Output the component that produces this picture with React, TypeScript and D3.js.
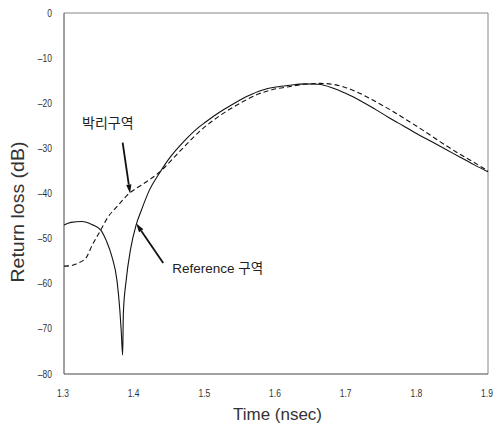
import React from "react";
import * as d3 from "d3";

// Time axis (nsec) and return loss (dB) samples for the two regions
const refTime = [
  1.3, 1.31, 1.325, 1.34, 1.352, 1.36, 1.368, 1.375, 1.379, 1.381, 1.383, 1.384,
  1.388, 1.394, 1.402, 1.41, 1.421, 1.435, 1.45, 1.47, 1.49, 1.5, 1.52, 1.54,
  1.56, 1.58, 1.6, 1.62, 1.64, 1.66, 1.68, 1.7, 1.72, 1.74, 1.76, 1.78, 1.8,
  1.82, 1.84, 1.86, 1.88, 1.9,
];
const refLoss = [
  -47.0, -46.4, -46.2, -46.9, -48.1, -50.5, -54.1, -59.3, -65.8, -70.5, -75.8,
  -66.5, -59.2, -52.5, -47.0, -43.5, -39.2, -35.5, -32.0, -28.4, -25.4, -24.2,
  -22.0, -20.1, -18.4, -17.1, -16.4, -16.0, -15.7, -15.8, -16.6, -17.9, -19.5,
  -21.3, -23.2, -25.0, -26.8, -28.5, -30.2, -31.9, -33.6, -35.2,
];

const sepTime = [
  1.3, 1.31, 1.317, 1.331, 1.34, 1.352, 1.361, 1.375, 1.392, 1.41, 1.435,
  1.463, 1.49, 1.52, 1.548, 1.576, 1.6, 1.62, 1.64, 1.662, 1.68, 1.7, 1.72,
  1.737, 1.76, 1.785, 1.81, 1.832, 1.855, 1.879, 1.9,
];
const sepLoss = [
  -56.1, -56.0, -55.6, -54.3, -51.4, -48.1, -45.5, -42.9, -40.0, -38.1, -35.3,
  -30.8, -26.5, -22.8, -20.1, -17.9, -16.8, -16.3, -15.8, -15.6, -15.8, -16.6,
  -17.9, -19.3, -21.3, -23.7, -26.2, -28.5, -30.8, -33.0, -35.0,
];

const xTicks = [1.3, 1.4, 1.5, 1.6, 1.7, 1.8, 1.9];
const yTicks = [0, -10, -20, -30, -40, -50, -60, -70, -80];

const W = 495;
const H = 427;
const plot = { left: 64, right: 488, top: 13, bottom: 374 };

export default function App() {
  const x = d3.scaleLinear().domain([1.3, 1.9]).range([plot.left, plot.right]);
  const y = d3.scaleLinear().domain([-80, 0]).range([plot.bottom, plot.top]);

  const line = d3
    .line<[number, number]>()
    .x((d) => x(d[0]))
    .y((d) => y(d[1]))
    .curve(d3.curveMonotoneX);

  const refPath = line(refTime.map((t, i) => [t, refLoss[i]]) as [number, number][]) || "";
  const sepPath = line(sepTime.map((t, i) => [t, sepLoss[i]]) as [number, number][]) || "";

  const fmt = (v: number) => (v < 0 ? "\u2013" + Math.abs(v) : String(v));

  // annotation arrows, anchored in data space
  const sepArrow = { from: [1.383, -28.7], to: [1.3935, -40.0] };
  const refArrow = { from: [1.4404, -55.4], to: [1.402, -46.6] };

  const arrow = (a: { from: number[]; to: number[] }) => {
    const x1 = x(a.from[0]);
    const y1 = y(a.from[1]);
    const x2 = x(a.to[0]);
    const y2 = y(a.to[1]);
    const ang = Math.atan2(y2 - y1, x2 - x1);
    const len = 9;
    const half = 2.6;
    const bx = x2 - len * Math.cos(ang);
    const by = y2 - len * Math.sin(ang);
    const px = -Math.sin(ang) * half;
    const py = Math.cos(ang) * half;
    return (
      <g>
        <line x1={x1} y1={y1} x2={bx} y2={by} stroke="#111" strokeWidth={1.8} />
        <polygon
          points={`${x2},${y2} ${bx + px},${by + py} ${bx - px},${by - py}`}
          fill="#111"
        />
      </g>
    );
  };

  const sans = "'Liberation Sans', Arial, sans-serif";

  return (
    <svg
      width={W}
      height={H}
      style={{ position: "absolute", left: 0, top: 0, background: "#fff" }}
    >
      {/* frame */}
      <line x1={plot.left} y1={plot.top} x2={plot.right} y2={plot.top} stroke="#888" strokeWidth={1} />
      <line x1={plot.right} y1={plot.top} x2={plot.right} y2={plot.bottom} stroke="#888" strokeWidth={1} />
      <line x1={plot.left} y1={plot.top} x2={plot.left} y2={plot.bottom} stroke="#444" strokeWidth={1} />
      <line x1={plot.left} y1={plot.bottom} x2={plot.right} y2={plot.bottom} stroke="#444" strokeWidth={1} />

      {/* y tick labels */}
      {yTicks.map((v) => (
        <text
          key={"y" + v}
          transform={`translate(${plot.left - 12}, ${y(v) + 3.5}) scale(0.85, 1)`}
          textAnchor="end"
          fontFamily={sans}
          fontSize={10}
          fill="#333"
        >
          {fmt(v)}
        </text>
      ))}

      {/* x tick labels */}
      {xTicks.map((v) => (
        <text
          key={"x" + v}
          transform={`translate(${x(v) - 1}, ${plot.bottom + 23}) scale(0.85, 1)`}
          textAnchor="middle"
          fontFamily={sans}
          fontSize={10}
          fill="#333"
        >
          {v.toFixed(1)}
        </text>
      ))}

      {/* axis titles */}
      <text
        transform="translate(24, 212) rotate(-90)"
        textAnchor="middle"
        fontFamily={sans}
        fontSize={17.5}
        textLength={141}
        lengthAdjust="spacingAndGlyphs"
        fill="#333"
      >
        Return loss (dB)
      </text>
      <text
        x={277.5}
        y={420}
        textAnchor="middle"
        fontFamily={sans}
        fontSize={16.5}
        textLength={89}
        lengthAdjust="spacingAndGlyphs"
        fill="#333"
      >
        Time (nsec)
      </text>

      {/* curves */}
      <path d={sepPath} fill="none" stroke="#111" strokeWidth={1.1} strokeDasharray="5,3" />
      <path d={refPath} fill="none" stroke="#111" strokeWidth={1.1} />

      {/* annotations */}
      {arrow(sepArrow)}
      {arrow(refArrow)}
      <text
        x={x(1.3255)}
        y={y(-25.5)}
        fontFamily="'Noto Sans CJK KR', sans-serif"
        fontSize={14}
        fill="#222"
      >
        박리구역
      </text>
      <text
        x={x(1.4532)}
        y={y(-57.6)}
        fontFamily="'Liberation Sans', 'Noto Sans CJK KR', sans-serif"
        fontSize={13.5}
        fill="#222"
      >
        Reference 구역
      </text>
    </svg>
  );
}
